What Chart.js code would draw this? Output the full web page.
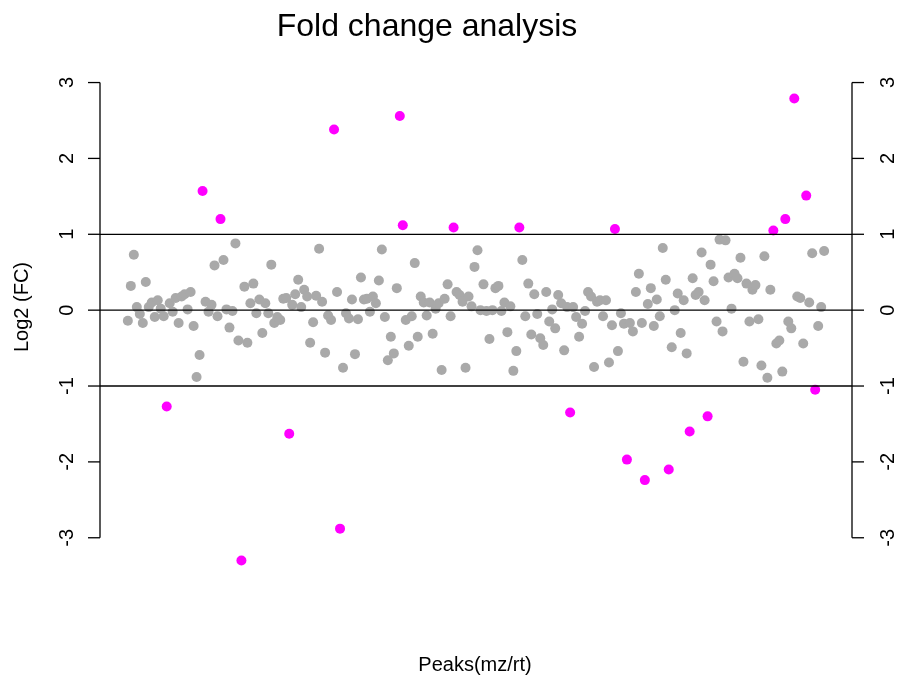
<!DOCTYPE html>
<html lang="en">
<head>
<meta charset="UTF-8" />
<title>Fold change analysis</title>
<script src="https://cdn.jsdelivr.net/npm/chart.js"></script>
<style>
body { margin: 0; background: #fff; }
#wrap { width: 899px; height: 675px; position: relative; }
</style>
</head>
<body>
<div id="wrap"><canvas id="fcChart"></canvas></div>
<script>
// log2 fold change per peak, left to right
const log2fc = [
  -0.14, 0.32, 0.73, 0.04, -0.05, -0.17, 0.37, 0.04, 0.10, -0.09, 0.13, 0.02, -0.08, -1.27, 0.09, -0.02, 0.16, -0.17, 0.18, 0.21, 0.01, 0.24,
  -0.21, -0.88, -0.59,
  1.57, 0.11, -0.02, 0.07, 0.59, -0.08, 1.20, 0.66, 0.01, -0.23, -0.01, 0.88, -0.40, -3.30, 0.31, -0.43, 0.09, 0.35, -0.04, 0.14, -0.30, 0.09,
  -0.04, 0.60, -0.17, -0.09, -0.13, 0.15, 0.16, -1.63, 0.07, 0.21, 0.40,
  0.04, 0.27, 0.18, -0.43, -0.16, 0.19, 0.81, 0.11, -0.56, -0.07, -0.13, 2.38, 0.24, -2.88, -0.76, -0.04, -0.11, 0.14, -0.58, -0.12, 0.43,
  0.14, 0.15, -0.02, 0.18, 0.09, 0.39, 0.80, -0.09, -0.66, -0.35, -0.57, 0.29,
  2.56, 1.12, -0.13, -0.47, -0.08, 0.62, -0.35, 0.18, 0.10, -0.07, 0.10, -0.31, 0.02, 0.09, -0.79, 0.15, 0.34, -0.08, 1.09, 0.24, 0.20, 0.11,
  -0.76, 0.18, 0.05, 0.57, 0.79, 0.00, 0.34, -0.01, -0.38, 0.00, 0.29,
  0.32, -0.01, 0.10, -0.29, 0.05, -0.80, -0.54, 1.09, 0.66, -0.08, 0.35, -0.32, 0.21, -0.05, -0.37, -0.46, 0.24, -0.15, 0.01, -0.24, 0.20,
  0.09, -0.53, 0.04, -1.35, 0.04, -0.09, -0.35, -0.18, -0.01, 0.24, 0.18, -0.75, 0.11,
  0.13, -0.08, 0.13, -0.69, -0.20, 1.07, -0.54, -0.04, -0.18, -1.97, -0.17, -0.28, 0.24, 0.48, -0.17, -2.24, 0.08, 0.29, -0.21, 0.14, -0.08,
  0.82, 0.40, -2.10, -0.49, 0.00, 0.22, -0.30, 0.13, -0.57, -1.60, 0.42, 0.20, 0.24,
  0.76, 0.13, -1.40, 0.60, 0.38, -0.15, 0.93, -0.28, 0.92, 0.43, 0.02, 0.48, 0.42, 0.69, -0.68, 0.35, -0.15, 0.27, 0.33, -0.12,
  -0.73, 0.71, -0.89, 0.27, 1.05, -0.44, -0.40, -0.81, 1.20, -0.15, -0.24, 2.79, 0.18, 0.16, -0.44, 1.51, 0.10, 0.75, -1.05, -0.21,
  0.04, 0.78
];
const yTicks = [-3, -2, -1, 0, 1, 2, 3];
const cutoffs = [-1, 0, 1];
const threshold = 1;

const peaks = log2fc.map((v, i) => ({ x: i + 1, y: v }));
const colors = log2fc.map(v => Math.abs(v) > threshold ? '#ff00ff' : '#a9a9a9');

// R style 4% padding around the data range
const n = log2fc.length;
const yLo = Math.min(...log2fc), yHi = Math.max(...log2fc);
const yPad = (yHi - yLo) * 0.04, xPad = (n - 1) * 0.04;

const FONT = '"Liberation Sans", Arial, sans-serif';

const rPlot = {
  id: 'rPlot',
  afterDatasetsDraw(chart) {
    const { ctx, chartArea: a, scales: { y } } = chart;
    ctx.save();
    ctx.strokeStyle = '#000';
    ctx.fillStyle = '#000';
    ctx.lineWidth = 1.3;

    // cutoff lines
    cutoffs.forEach(v => {
      const py = y.getPixelForValue(v);
      ctx.beginPath(); ctx.moveTo(a.left, py); ctx.lineTo(a.right, py); ctx.stroke();
    });

    // left and right axes
    const top = y.getPixelForValue(yTicks[yTicks.length - 1]);
    const bot = y.getPixelForValue(yTicks[0]);
    [[a.left, -12], [a.right, 12]].forEach(([ax, dir]) => {
      ctx.beginPath(); ctx.moveTo(ax, top); ctx.lineTo(ax, bot); ctx.stroke();
      yTicks.forEach(t => {
        const py = y.getPixelForValue(t);
        ctx.beginPath(); ctx.moveTo(ax, py); ctx.lineTo(ax + dir, py); ctx.stroke();
      });
    });

    // tick labels, rotated like R's default
    ctx.font = '20px ' + FONT;
    ctx.textAlign = 'center';
    ctx.textBaseline = 'alphabetic';
    yTicks.forEach(t => {
      const py = y.getPixelForValue(t);
      [a.left - 27, a.right + 42].forEach(bx => {
        ctx.save(); ctx.translate(bx, py); ctx.rotate(-Math.PI / 2);
        ctx.fillText(String(t), 0, 0); ctx.restore();
      });
    });

    // axis titles and main title
    ctx.save(); ctx.translate(28, 307); ctx.rotate(-Math.PI / 2);
    ctx.fillText('Log2 (FC)', 0, 0); ctx.restore();
    ctx.fillText('Peaks(mz/rt)', 475, 671);
    ctx.font = '32px ' + FONT;
    ctx.fillText('Fold change analysis', 427, 36);
    ctx.restore();
  }
};

new Chart(document.getElementById('fcChart'), {
  type: 'scatter',
  data: {
    datasets: [{
      data: peaks,
      pointBackgroundColor: colors,
      pointBorderWidth: 0,
      pointRadius: 5,
      pointHoverRadius: 5
    }]
  },
  options: {
    responsive: true,
    maintainAspectRatio: false,
    animation: false,
    layout: { padding: { left: 100, right: 47, top: 80, bottom: 96 } },
    plugins: { legend: { display: false }, tooltip: { enabled: false } },
    scales: {
      x: { type: 'linear', display: false, min: 1 - xPad, max: n + xPad },
      y: { display: false, min: yLo - yPad, max: yHi + yPad }
    }
  },
  plugins: [rPlot]
});
</script>
</body>
</html>
